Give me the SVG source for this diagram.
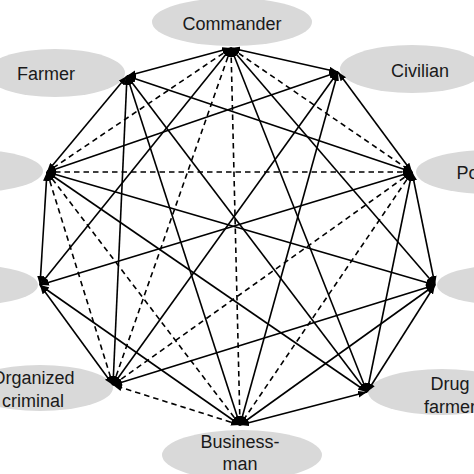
<svg xmlns="http://www.w3.org/2000/svg" width="474" height="474" viewBox="0 0 474 474">
<style>
.el{fill:#d9d9d9;stroke:none}
.t{font-family:"Liberation Sans",Arial,sans-serif;font-size:18px;fill:#1a1a1a;text-anchor:middle}
.s{stroke:#000;stroke-width:1.6;fill:none;marker-start:url(#ah);marker-end:url(#ah)}
.d{stroke:#000;stroke-width:1.6;fill:none;stroke-dasharray:5.5 4;marker-start:url(#ah);marker-end:url(#ah)}
</style>
<defs>
<marker id="ah" viewBox="0 0 8 6" refX="8" refY="3" markerWidth="9" markerHeight="7" markerUnits="userSpaceOnUse" orient="auto-start-reverse">
<path d="M0,0 L8,3 L0,6 z" fill="#000"/>
</marker>
</defs>
<rect width="474" height="474" fill="#fff"/>
<g id="node-commander"><ellipse class="el" cx="232" cy="22" rx="80" ry="24"/><text class="t" x="232" y="30">Commander</text></g>
<g id="node-civilian"><ellipse class="el" cx="412" cy="69" rx="72" ry="24"/><text class="t" x="420" y="77">Civilian</text></g>
<g id="node-police"><ellipse class="el" cx="488" cy="172" rx="72" ry="22"/><text class="t" x="481" y="179">Police</text></g>
<g id="node-right"><ellipse class="el" cx="505" cy="285" rx="68" ry="20"/></g>
<g id="node-drugfarmer"><ellipse class="el" cx="442" cy="392" rx="74" ry="23"/><text class="t" x="450" y="390">Drug</text><text class="t" x="450" y="413">farmer</text></g>
<g id="node-businessman"><ellipse class="el" cx="242" cy="455" rx="80" ry="25"/><text class="t" x="240" y="448">Business-</text><text class="t" x="240" y="470">man</text></g>
<g id="node-organized"><ellipse class="el" cx="40" cy="388" rx="73" ry="23"/><text class="t" x="33" y="384">Organized</text><text class="t" x="33" y="407">criminal</text></g>
<g id="node-lowerleft"><ellipse class="el" cx="-30" cy="285" rx="68" ry="20"/></g>
<g id="node-left"><ellipse class="el" cx="-25" cy="171" rx="68" ry="21"/></g>
<g id="node-farmer"><ellipse class="el" cx="55" cy="73" rx="70" ry="24"/><text class="t" x="46" y="80">Farmer</text></g>
<g id="edges">
<line class="s" x1="231" y1="48" x2="127" y2="76"/>
<line class="s" x1="231" y1="48" x2="40" y2="285"/>
<line class="s" x1="231" y1="48" x2="367" y2="392"/>
<line class="s" x1="231" y1="48" x2="435" y2="285"/>
<line class="s" x1="231" y1="48" x2="338" y2="72"/>
<line class="s" x1="338" y1="72" x2="412" y2="172"/>
<line class="s" x1="338" y1="72" x2="47" y2="172"/>
<line class="s" x1="338" y1="72" x2="113" y2="385"/>
<line class="s" x1="338" y1="72" x2="240" y2="425"/>
<line class="s" x1="412" y1="172" x2="127" y2="76"/>
<line class="s" x1="412" y1="172" x2="40" y2="285"/>
<line class="s" x1="412" y1="172" x2="367" y2="392"/>
<line class="s" x1="412" y1="172" x2="435" y2="285"/>
<line class="s" x1="435" y1="285" x2="47" y2="172"/>
<line class="s" x1="435" y1="285" x2="113" y2="385"/>
<line class="s" x1="435" y1="285" x2="240" y2="425"/>
<line class="s" x1="435" y1="285" x2="367" y2="392"/>
<line class="s" x1="367" y1="392" x2="127" y2="76"/>
<line class="s" x1="367" y1="392" x2="47" y2="172"/>
<line class="s" x1="367" y1="392" x2="240" y2="425"/>
<line class="s" x1="240" y1="425" x2="40" y2="285"/>
<line class="s" x1="240" y1="425" x2="127" y2="76"/>
<line class="s" x1="113" y1="385" x2="40" y2="285"/>
<line class="s" x1="113" y1="385" x2="127" y2="76"/>
<line class="s" x1="40" y1="285" x2="47" y2="172"/>
<line class="s" x1="47" y1="172" x2="127" y2="76"/>
<line class="d" x1="231" y1="48" x2="47" y2="172"/>
<line class="d" x1="231" y1="48" x2="113" y2="385"/>
<line class="d" x1="231" y1="48" x2="240" y2="425"/>
<line class="d" x1="231" y1="48" x2="412" y2="172"/>
<line class="d" x1="412" y1="172" x2="47" y2="172"/>
<line class="d" x1="412" y1="172" x2="113" y2="385"/>
<line class="d" x1="412" y1="172" x2="240" y2="425"/>
<line class="d" x1="240" y1="425" x2="113" y2="385"/>
<line class="d" x1="240" y1="425" x2="47" y2="172"/>
<line class="d" x1="47" y1="172" x2="113" y2="385"/>
</g>
</svg>
